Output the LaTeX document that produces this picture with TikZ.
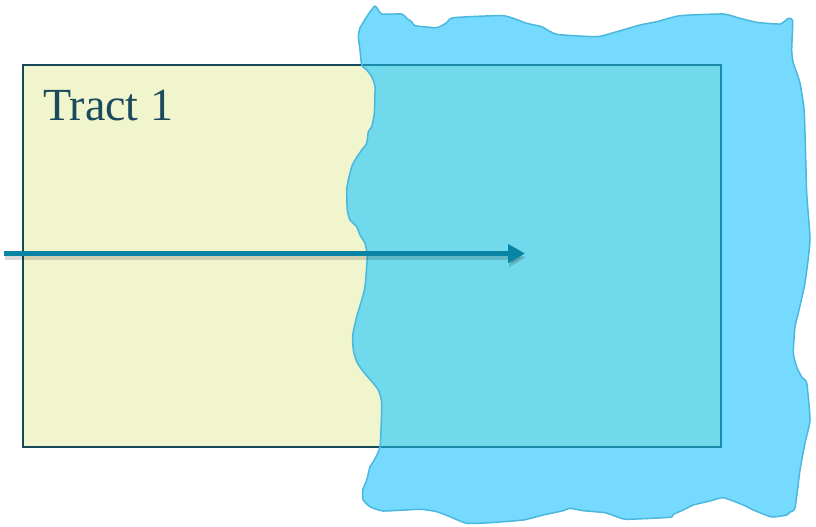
\documentclass[tikz,border=0pt]{standalone}
\usepackage{fontspec}
\setmainfont{Liberation Serif}
\usetikzlibrary{arrows.meta}
\definecolor{tractfill}{RGB}{240,245,205}
\definecolor{tractline}{RGB}{22,72,92}
\definecolor{tractlineblue}{RGB}{26,138,170}
\definecolor{blobfill}{RGB}{118,218,255}
\definecolor{bloboverlap}{RGB}{112,217,235}
\definecolor{blobline}{RGB}{74,184,220}
\definecolor{arrowc}{RGB}{10,132,165}
\definecolor{textc}{RGB}{27,74,92}
\tikzset{
  rectborder/.style={draw=tractline, line width=1.5pt},
  blobedge/.style={draw=blobline, line width=1.5pt, line join=round},
  mainarrow/.style={draw=arrowc, line width=5pt, -{Triangle[length=17pt,width=18pt]}},
  arrowshadow/.style={draw=black, opacity=0.15, line width=5pt, -{Triangle[length=17pt,width=18pt]}},
  labeltext/.style={text=textc, font=\fontsize{46}{50}\selectfont, inner sep=0pt, anchor=base west}
}
\begin{document}
\begin{tikzpicture}[x=1pt,y=-1pt]
\useasboundingbox (0,0) rectangle (816,527);
\path[save path=\blobp] plot[smooth cycle, tension=0.3] coordinates {
(358.3,36.7) (360,28) (366.7,16.7) (375,6) (381.7,14) (401.7,14) (406.7,18.3) (411.7,21.7) (415,25.7) (436.7,27.7) (446.7,22.7) (453.3,17.7) (503.3,15.7) (526.7,23.3) (541.7,26.7) (556.7,34.3) (596.7,36.7) (613.3,32.7) (640,25) (656.7,21.7) (680,15.7) (723.3,14) (740,18.3) (756.7,22.3) (780,24) (788.3,18.3) (792.7,20.7) (791.7,50) (793.3,63) (800,83) (804.3,113) (806.7,193) (810,240) (805,283) (798.3,313) (795,327) (793.3,353) (796.7,367) (801.7,377) (806.7,383) (810,420) (805,443) (800,470) (795,508) (790,512) (786.7,515) (771.7,517) (753.3,510) (743.3,505) (723.3,497.7) (710,501) (693.3,505) (683.3,510) (673.3,514.3) (670,517.3) (626.7,519.3) (616.7,516.7) (605,512.7) (583.3,510.7) (570,508.3) (563.3,510.7) (543.3,515) (523.3,520) (490,522.7) (466.7,523.3) (450,516.7) (436.7,511.7) (420,509.3) (383.3,511) (370,506.7) (363.3,500) (362.7,490) (366.7,480) (370,466.7) (373.3,461.7) (380,446.7) (381.7,403.3) (378.3,390) (373.3,383.3) (363.3,371.7) (356.7,361.7) (353.3,350) (352.7,335) (356.7,316.7) (361.7,300) (365,286.7) (367.3,256.7) (365,243.3) (360,235) (356.7,226.7) (350,220) (347.3,210) (346.7,190) (348.3,180) (351.7,166.7) (355,160) (361.7,150) (366.7,143.3) (368.3,131.7) (371.7,126.7) (374.3,113.3) (375,86.7) (371.7,76.7) (366.7,70) (361.7,65) (360,50)};
% tract rectangle
\coordinate (tl) at (23,65);
\coordinate (br) at (721,447);
\fill[tractfill] (tl) rectangle (br);
% water blob
\fill[blobfill, use path=\blobp];
\begin{scope}
  \clip (tl) rectangle (br);
  \fill[bloboverlap, use path=\blobp];
\end{scope}
\draw[rectborder] (tl) rectangle (br);
\begin{scope}
  \clip[use path=\blobp];
  \draw[rectborder, draw=tractlineblue] (tl) rectangle (br);
\end{scope}
\draw[blobedge, use path=\blobp];
% label
\node[labeltext] (tract) at (43,120) {Tract 1};
% arrow
\coordinate (a0) at (4,253.5);
\coordinate (a1) at (525,253.5);
\coordinate (s0) at (5,257.5);
\coordinate (s1) at (526,257.5);
\draw[arrowshadow] (s0) -- (s1);
\draw[mainarrow] (a0) -- (a1);
\end{tikzpicture}
\end{document}
